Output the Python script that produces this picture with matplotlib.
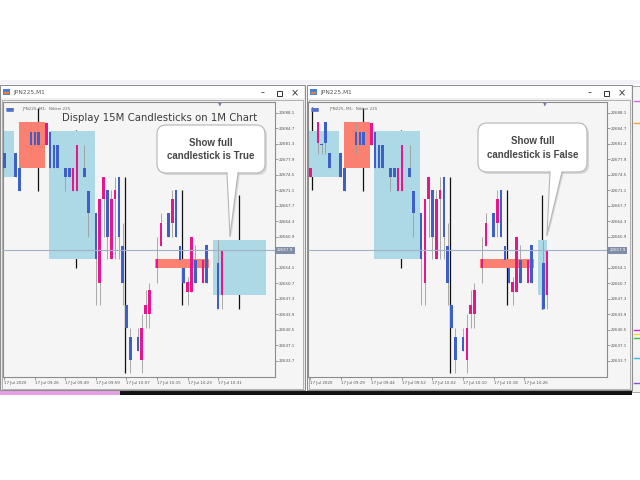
import matplotlib
matplotlib.use("Agg")
import matplotlib.pyplot as plt
import matplotlib.transforms as mtransforms
from matplotlib.patches import Rectangle, FancyBboxPatch, Polygon

# 1M candles (bar index, open, high, low, close)
bar_idx = [-5, -3, -2, -1, 0, 3, 4, 7, 8, 9, 11, 12, 13, 14, 16, 17, 18, 19, 21, 22,
           24, 25, 26, 27, 28, 29, 30, 31, 32, 33, 35, 36, 37, 38, 40, 41, 43, 44, 45,
           46, 47, 48, 49, 50, 52, 53, 56, 57]
bar_open = [22674.1, 22681.5, 22681.3, 22686.2, 22679.4, 22679.4, 22676.1, 22684.0, 22684.0, 22684.0,
            22681.1, 22684.0, 22681.1, 22681.1, 22676.1, 22676.1, 22671.0, 22671.0, 22676.1, 22671.0,
            22666.2, 22650.8, 22669.2, 22671.2, 22656.1, 22669.2, 22674.1, 22658.9, 22645.9, 22638.9,
            22638.9, 22633.9, 22644.0, 22644.0, 22654.1, 22658.9, 22666.2, 22664.0, 22671.2,
            22658.9, 22654.1, 22648.8, 22648.8, 22655.8, 22650.8, 22659.1, 22655.2, 22648.1]
bar_high = [22676.1, 22686.2, 22681.5, 22686.2, 22679.4, 22679.4, 22676.7, 22685.9, 22684.0, 22684.0,
            22685.9, 22684.0, 22681.1, 22681.1, 22676.1, 22676.1, 22676.1, 22681.1, 22681.1, 22671.0,
            22666.2, 22669.2, 22674.1, 22671.2, 22671.2, 22674.1, 22674.1, 22664.0, 22645.9, 22640.9,
            22640.9, 22644.0, 22649.2, 22650.8, 22660.9, 22666.2, 22666.2, 22671.2, 22671.2,
            22658.9, 22654.1, 22652.1, 22660.9, 22659.1, 22655.8, 22659.1, 22660.2, 22657.8]
bar_low = [22674.1, 22679.1, 22679.1, 22679.1, 22676.1, 22674.1, 22671.0, 22679.1, 22681.1, 22681.1,
           22681.1, 22676.1, 22676.1, 22676.1, 22671.0, 22674.1, 22671.0, 22671.0, 22674.1, 22660.9,
           22645.9, 22645.9, 22660.9, 22656.1, 22656.1, 22656.1, 22656.1, 22645.9, 22640.9, 22631.0,
           22635.8, 22631.0, 22640.9, 22640.9, 22650.8, 22658.9, 22660.9, 22660.9, 22660.9,
           22655.8, 22650.8, 22645.9, 22648.8, 22650.8, 22650.8, 22650.8, 22645.1, 22645.1]
bar_close = [22676.1, 22686.2, 22681.0, 22681.5, 22676.1, 22674.1, 22671.0, 22681.1, 22681.1, 22681.1,
             22685.9, 22676.1, 22676.1, 22676.1, 22674.1, 22674.1, 22676.1, 22681.1, 22674.1, 22666.2,
             22656.1, 22669.2, 22674.1, 22660.9, 22669.2, 22671.2, 22660.9, 22650.8, 22640.9, 22633.9,
             22635.8, 22640.9, 22645.9, 22649.2, 22656.1, 22664.0, 22660.9, 22669.2, 22660.9,
             22655.8, 22650.8, 22651.0, 22660.9, 22650.8, 22655.8, 22650.8, 22645.1, 22657.8]

# 15M candles drawn over the 1M chart
m15_start = [-5.3, 3.85, 11.7, 24.5, 39.5, 54.6]
m15_end = [2.5, 10.65, 23.7, 38.5, 53.6, 68.6]
m15_open = [22684.2, 22676.1, 22684.2, 22656.0, 22654.1, 22660.2]
m15_close = [22674.1, 22686.2, 22656.1, 22656.0, 22656.1, 22648.1]
m15_wick_x = [-4.5, 8.8, 18.8, 31.6, 46.5, 61.4]
m15_high = [22689.5, 22689.2, 22684.4, 22674.1, 22671.2, 22670.1]
m15_low = [22671.2, 22671.0, 22654.1, 22631.0, 22645.9, 22645.1]

current_price = 22657.9
price_ticks = [22688.1, 22684.7, 22681.3, 22677.9, 22674.5, 22671.1, 22667.7, 22664.3, 22660.9,
               22654.1, 22650.7, 22647.3, 22643.9, 22640.5, 22637.1, 22633.7]

left_tick_pos = [0, 8, 16, 24, 32, 40, 48, 56]
left_tick_lbl = ["17 Jul 2020", "17 Jul 09:26", "17 Jul 09:49", "17 Jul 09:59",
                 "17 Jul 10:07", "17 Jul 10:15", "17 Jul 10:23", "17 Jul 10:31"]
right_tick_pos = [-5, 3, 11, 19, 27, 35, 43, 51]
right_tick_lbl = ["17 Jul 2020", "17 Jul 09:29", "17 Jul 09:44", "17 Jul 09:52",
                  "17 Jul 10:02", "17 Jul 10:10", "17 Jul 10:18", "17 Jul 10:26"]

BLUE = "#3c5fc8"
PINK = "#e8168a"
LIGHTBLUE = "#add8e6"
SALMON = "#fa8072"
CHART_BG = "#f5f5f5"

W, H = 640, 480
fig = plt.figure(figsize=(6.4, 4.8), dpi=100)

# background layer in pixel coordinates
bg = fig.add_axes([0, 0, 1, 1], zorder=0)
bg.set_xlim(0, W)
bg.set_ylim(H, 0)
bg.axis("off")

def px_axes(x0, y0, x1, y1, z):
    return fig.add_axes([x0 / W, 1 - y1 / H, (x1 - x0) / W, (y1 - y0) / H], zorder=z)

# desktop bits around the windows
bg.add_patch(Rectangle((0, 80), W, 4, fc="#f3f3f7", ec="none"))
bg.add_patch(Rectangle((0, 391), 120, 4, fc="#e6a0e6", ec="none"))
bg.add_patch(Rectangle((120, 391), 512, 4, fc="#111111", ec="none"))
bg.add_patch(Rectangle((632, 86), 8, 306, fc="#f4f4f4", ec="#9a9a9a", lw=0.6))
for yy, cc in [(123, "#f0a040"), (330, "#e020e0"), (334, "#e8e020"), (338, "#30c040"),
               (358, "#30c0e0"), (383, "#9050d0"), (101, "#e060e0")]:
    bg.plot([634, 640], [yy, yy], color=cc, lw=1.0)

for wx0, wx1 in [(0, 305), (307, 632)]:
    bg.add_patch(Rectangle((wx0, 85), wx1 - wx0, 305, fc="#f0f0f0", ec="#8e8e8e", lw=0.8))
    bg.add_patch(Rectangle((wx0 + 1, 86), wx1 - wx0 - 2, 12, fc="white", ec="none"))
    bg.add_patch(Rectangle((wx0 + 3, 89), 7, 6, fc="#4a7fd4", ec="none"))
    bg.add_patch(Rectangle((wx0 + 4, 92), 5, 2, fc="#f08030", ec="none"))
    bg.text(wx0 + 13, 92.5, "JPN225,M1", fontsize=4.2, color="#555555", va="center")
    bg.text(wx1 - 42, 93, "\u2013", fontsize=5.5, color="#333333", ha="center", va="center")
    bg.add_patch(Rectangle((wx1 - 28, 90.5), 5, 5, fc="none", ec="#333333", lw=0.7))
    bg.text(wx1 - 10, 93, "\u00d7", fontsize=7, color="#333333", ha="center", va="center")
    bg.add_patch(Rectangle((wx0 + 2, 100), wx1 - wx0 - 4, 289, fc=CHART_BG, ec="#a5a5a5", lw=0.6))


def draw_chart(ax, xview, tick_pos, tick_lbl, full_last):
    ax.set_facecolor(CHART_BG)
    ax.set_xlim(*xview)
    ax.set_ylim(22630.1, 22690.5)

    n = len(m15_start)
    for k in range(n):
        x0, x1 = m15_start[k], m15_end[k]
        wx = m15_wick_x[k]
        if k == n - 1 and not full_last:
            x1 = bar_idx[-1]
            wx = (x0 + x1) / 2
        ax.vlines(wx, m15_low[k], m15_high[k], color="#111111", lw=0.9, zorder=1)
        lo = min(m15_open[k], m15_close[k])
        hgt = abs(m15_close[k] - m15_open[k])
        col = SALMON if m15_close[k] > m15_open[k] else LIGHTBLUE
        ax.add_patch(Rectangle((x0, lo), x1 - x0, hgt, fc=col, ec="none", zorder=2))

    for i, o, h, l, c in zip(bar_idx, bar_open, bar_high, bar_low, bar_close):
        col = PINK if c > o else BLUE
        ax.vlines(i, l, h, color="#9c9c9c", lw=0.6, zorder=3)
        ax.bar(i, max(abs(c - o), 0.25), bottom=min(o, c), width=0.68, color=col, zorder=4)

    ax.axhline(current_price, color="#a3b1c6", lw=0.8, zorder=5)

    ax.yaxis.tick_right()
    ax.set_yticks(price_ticks)
    ax.set_yticklabels([f"{p:.1f}" for p in price_ticks])
    ax.set_xticks(tick_pos)
    ax.set_xticklabels(tick_lbl, ha="left")
    ax.tick_params(axis="both", length=2, width=0.5, color="#777777",
                   labelsize=2.9, labelcolor="#555555", pad=1)
    for s in ax.spines.values():
        s.set_color("#8c8c8c")
        s.set_linewidth(0.8)

    trans = mtransforms.blended_transform_factory(ax.transAxes, ax.transData)
    ax.text(1.008, current_price, f"{current_price:.1f}", transform=trans, fontsize=2.9,
            color="white", ha="left", va="center", zorder=6,
            bbox=dict(boxstyle="square,pad=0.3", fc="#7f8da6", ec="none"), clip_on=False)
    ax.text(0.008, 0.985, "\u25a0\u25a0", transform=ax.transAxes, fontsize=3.5,
            color="#5070d0", va="top")
    ax.text(0.07, 0.982, "JPN225, M1:  Nikkei 225", transform=ax.transAxes, fontsize=3,
            color="#666666", va="top")


ax_left = px_axes(3, 102, 275, 377, 1)
draw_chart(ax_left, (-0.34, 70.9), left_tick_pos, left_tick_lbl, True)
ax_right = px_axes(308, 102, 607, 377, 1)
draw_chart(ax_right, (-5.58, 72.7), right_tick_pos, right_tick_lbl, False)

# foreground: caption and speech bubbles
fg = fig.add_axes([0, 0, 1, 1], zorder=5)
fg.set_xlim(0, W)
fg.set_ylim(H, 0)
fg.axis("off")
fg.patch.set_alpha(0)

for tx in (220, 545):
    fg.text(tx, 103.5, "\u25bc", fontsize=3.5, color="#7080a0", ha="center", va="center")

fg.text(160, 118, "Display 15M Candlesticks on 1M Chart", fontsize=7.3, color="#3a3a3a",
        ha="center", va="center")


def bubble(x0, y0, x1, y1, base, tip, text):
    w, h = x1 - x0, y1 - y0
    fg.add_patch(FancyBboxPatch((x0 + 2, y0 + 2), w, h,
                                boxstyle="round,pad=0,rounding_size=9",
                                fc="#c4c4c4", ec="none", alpha=0.6))
    fg.add_patch(Polygon([(base[0] + 2, y1), (base[1] + 2, y1), (tip[0] + 1.5, tip[1])],
                         closed=True, fc="#c4c4c4", ec="none", alpha=0.6))
    fg.add_patch(FancyBboxPatch((x0, y0), w, h, boxstyle="round,pad=0,rounding_size=9",
                                fc="white", ec="#b5b5b5", lw=0.8))
    fg.add_patch(Polygon([(base[0], y1 - 1), (base[1], y1 - 1), tip], closed=True,
                         fc="white", ec="none"))
    fg.plot([base[0], tip[0]], [y1, tip[1]], color="#b5b5b5", lw=0.8)
    fg.plot([base[1], tip[0]], [y1, tip[1]], color="#b5b5b5", lw=0.8)
    fg.text((x0 + x1) / 2, (y0 + y1) / 2 + 0.5, text, ha="center", va="center",
            fontsize=7, fontweight="bold", color="#474747", linespacing=1.45,
            family=["Liberation Sans", "DejaVu Sans"])


bubble(157, 125, 265, 173, (227, 238), (230, 236), "Show full\ncandlestick is True")
bubble(478, 123, 587, 172, (550, 562), (547, 235), "Show full\ncandlestick is False")

fig.savefig("out.png", dpi=100, facecolor="white")
